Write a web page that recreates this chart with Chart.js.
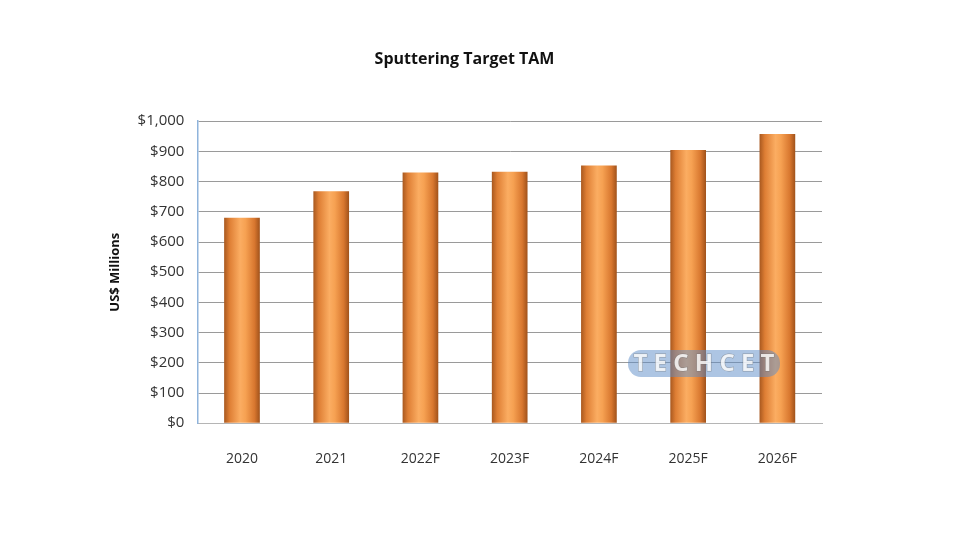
<!DOCTYPE html>
<html>
<head>
<meta charset="utf-8">
<title>Sputtering Target TAM</title>
<script src="https://cdn.jsdelivr.net/npm/chart.js@4/dist/chart.umd.min.js"></script>
<style>
  html, body { margin: 0; padding: 0; background: #fff; }
  #wrap { width: 964px; height: 533px; position: relative; }
</style>
</head>
<body>
<div id="wrap"><canvas id="tamChart" width="964" height="533"></canvas></div>
<script>
// Chart data (US$ millions)
const years = ["2020", "2021", "2022F", "2023F", "2024F", "2025F", "2026F"];
const tamValues = [680, 768, 830, 833, 853, 905, 958];
const yTicks = [0, 100, 200, 300, 400, 500, 600, 700, 800, 900, 1000];

const BAR_PCT = 0.4;

// Horizontal gradient so each bar reads like a shaded cylinder
function cylinderFill(ctx) {
  const chart = ctx.chart;
  const xScale = chart.scales.x;
  if (!xScale || ctx.dataIndex === undefined) return "#e8873a";
  const cx = xScale.getPixelForValue(ctx.dataIndex);
  const half = (xScale.width / years.length) * BAR_PCT / 2;
  if (!Number.isFinite(cx) || !Number.isFinite(half) || half <= 0) return "#e8873a";
  const g = chart.ctx.createLinearGradient(cx - half, 0, cx + half, 0);
  g.addColorStop(0, "#a8581f");
  g.addColorStop(0.15, "#de7e34");
  g.addColorStop(0.45, "#fbad62");
  g.addColorStop(0.6, "#f6a152");
  g.addColorStop(0.85, "#d8772f");
  g.addColorStop(1, "#a0521b");
  return g;
}

// Watermark logo, drawn on top like the original picture
const watermark = {
  id: "watermark",
  afterDatasetsDraw(chart) {
    const c = chart.ctx;
    const x = 704, y = 363;
    c.save();
    c.fillStyle = "rgba(92, 140, 200, 0.5)";
    c.beginPath();
    c.roundRect(x - 76, y - 13, 152, 27, 13);
    c.fill();
    c.font = "bold 24px 'Open Sans', sans-serif";
    c.textAlign = "center";
    c.textBaseline = "middle";
    c.fillStyle = "rgba(255, 255, 255, 0.8)";
    c.strokeStyle = "rgba(110, 110, 110, 0.5)";
    c.lineWidth = 1;
    const txt = "T E C H C E T";
    c.strokeText(txt, x, y + 1);
    c.fillText(txt, x, y + 1);
    c.restore();
  },
};

const chart = new Chart(document.getElementById("tamChart"), {
  type: "bar",
  data: {
    labels: years,
    datasets: [
      {
        label: "Sputtering Target TAM",
        data: tamValues,
        backgroundColor: cylinderFill,
        borderWidth: 0,
        barPercentage: BAR_PCT,
        categoryPercentage: 1,
      },
    ],
  },
  options: {
    responsive: false,
    animation: false,
    devicePixelRatio: 1,
    layout: { padding: { left: 107, right: 142, top: 0, bottom: 39 } },
    plugins: {
      legend: { display: false },
      tooltip: { enabled: false },
      title: {
        display: true,
        text: "Sputtering Target TAM",
        color: "#111",
        font: { family: "'Open Sans', sans-serif", size: 16, weight: "bold" },
        padding: { top: 50, bottom: 52 },
      },
    },
    scales: {
      x: {
        offset: true,
        grid: { display: false, drawTicks: false },
        border: { display: true, color: "#b5b5b5", width: 1 },
        ticks: {
          color: "#333",
          font: { family: "'Open Sans', sans-serif", size: 14 },
          padding: 27,
        },
      },
      y: {
        min: 0,
        max: 1000,
        afterBuildTicks(axis) {
          axis.ticks = yTicks.map((v) => ({ value: v }));
        },
        grid: { color: "#9a9a9a", lineWidth: 1, drawTicks: false },
        border: { display: true, color: "#8fb4dc", width: 1.5 },
        ticks: {
          color: "#333",
          font: { family: "'Open Sans', sans-serif", size: 15 },
          padding: 13,
          callback: (v) => "$" + v.toLocaleString("en-US"),
        },
        title: {
          display: true,
          text: "US$ Millions",
          color: "#111",
          font: { family: "'Open Sans', sans-serif", size: 13, weight: "bold" },
          padding: { top: 0, bottom: 2 },
        },
      },
    },
  },
  plugins: [watermark],
});
</script>
</body>
</html>
